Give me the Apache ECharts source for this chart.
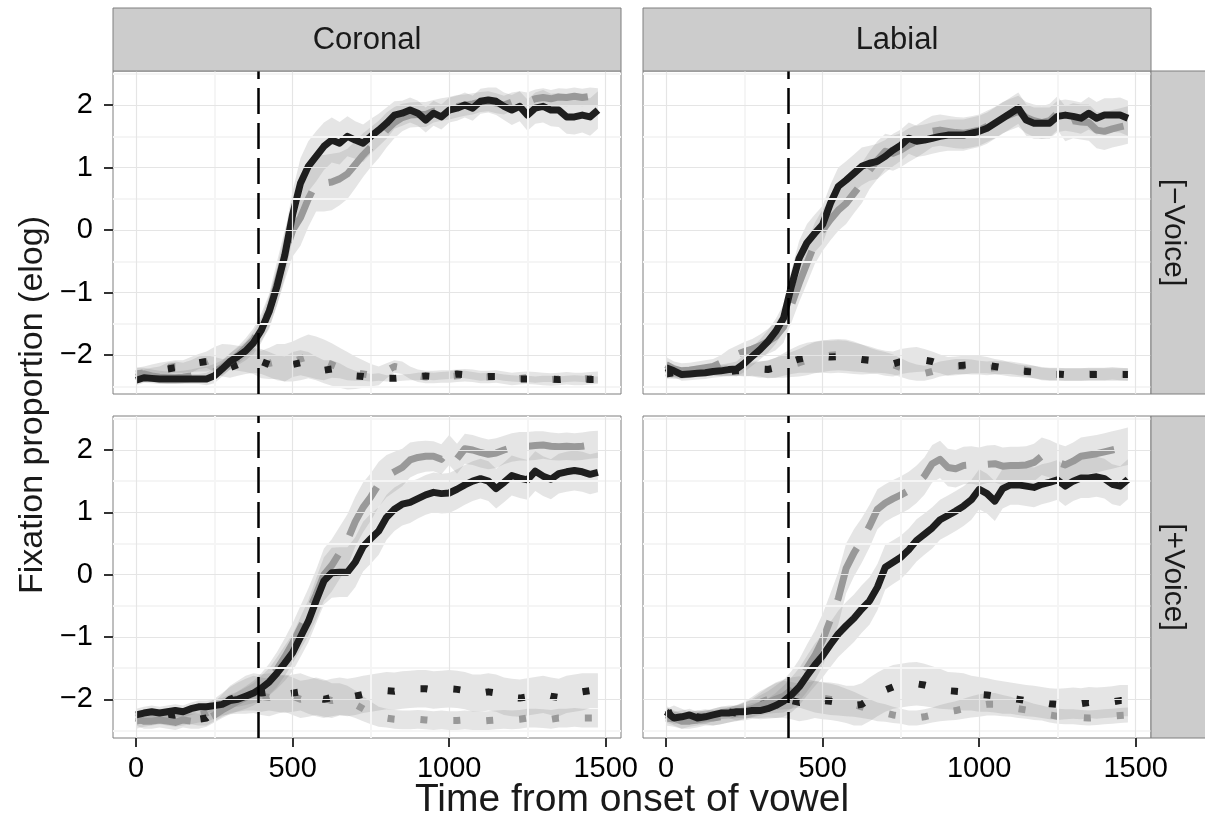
<!DOCTYPE html>
<html>
<head>
<meta charset="utf-8">
<script src="https://cdn.jsdelivr.net/npm/echarts@6/dist/echarts.min.js"></script>
<style>html,body{margin:0;padding:0;background:#fff}#c{width:1205px;height:826px}</style>
</head>
<body>
<div id="c"></div>
<script>
// ---- DATA ----
const times = [0,25,50,75,100,125,150,175,200,225,250,275,300,325,350,375,400,425,450,475,500,525,550,575,600,625,650,675,700,725,750,775,800,825,850,875,900,925,950,975,1000,1025,1050,1075,1100,1125,1150,1175,1200,1225,1250,1275,1300,1325,1350,1375,1400,1425,1450,1475];
const xTicks = [0, 500, 1000, 1500];
const yTicks = [-2, -1, 0, 1, 2];
const colPlace = ['Coronal', 'Labial'];
const rowVoice = ['[\u2212Voice]', '[+Voice]'];
const onsetMark = 390;

// Coronal, -Voice
const cl_black = [-2.40,-2.36,-2.37,-2.38,-2.38,-2.38,-2.38,-2.38,-2.38,-2.38,-2.33,-2.22,-2.10,-2.02,-1.93,-1.80,-1.60,-1.30,-0.90,-0.40,0.25,0.75,1.02,1.18,1.34,1.44,1.39,1.50,1.44,1.39,1.50,1.60,1.71,1.84,1.87,1.92,1.87,1.76,1.87,1.81,1.92,1.95,2.00,1.95,2.06,2.08,2.06,1.98,1.92,1.98,1.84,1.95,1.98,1.92,1.92,1.81,1.81,1.84,1.81,1.92];
const cl_gray = [-2.30,-2.30,-2.33,-2.35,-2.36,-2.36,-2.35,-2.33,-2.30,-2.28,-2.26,-2.20,-2.10,-2.00,-1.88,-1.75,-1.55,-1.30,-0.85,-0.40,0.00,0.20,0.50,0.75,0.75,0.77,0.82,0.90,1.05,1.20,1.33,1.45,1.60,1.72,1.80,1.84,1.85,1.85,1.90,1.93,1.95,1.98,2.00,2.02,2.05,2.06,2.03,2.00,2.05,2.07,2.05,2.10,2.12,2.10,2.13,2.12,2.14,2.12,2.14,2.13];
const cl_bcomp = [-2.35,-2.33,-2.30,-2.28,-2.22,-2.20,-2.22,-2.18,-2.12,-2.10,-2.15,-2.20,-2.20,-2.15,-2.10,-2.08,-2.10,-2.15,-2.20,-2.22,-2.15,-2.12,-2.15,-2.20,-2.24,-2.22,-2.25,-2.30,-2.33,-2.34,-2.36,-2.35,-2.37,-2.37,-2.36,-2.35,-2.34,-2.33,-2.34,-2.33,-2.32,-2.30,-2.31,-2.33,-2.35,-2.34,-2.34,-2.36,-2.37,-2.38,-2.38,-2.39,-2.38,-2.38,-2.39,-2.38,-2.37,-2.38,-2.39,-2.39];
const cl_gcomp = [-2.30,-2.28,-2.25,-2.22,-2.20,-2.18,-2.18,-2.15,-2.12,-2.10,-2.05,-2.02,-2.03,-2.05,-2.07,-2.10,-2.15,-2.13,-2.10,-2.12,-2.10,-2.06,-2.02,-2.05,-2.10,-2.15,-2.20,-2.25,-2.28,-2.30,-2.32,-2.33,-2.25,-2.18,-2.20,-2.28,-2.33,-2.35,-2.35,-2.34,-2.34,-2.33,-2.32,-2.33,-2.35,-2.35,-2.34,-2.36,-2.38,-2.37,-2.36,-2.37,-2.38,-2.39,-2.38,-2.37,-2.38,-2.38,-2.37,-2.36];
const cl_black_se = [0.08,0.08,0.08,0.08,0.08,0.08,0.08,0.08,0.08,0.10,0.12,0.12,0.13,0.14,0.15,0.18,0.20,0.25,0.30,0.35,0.38,0.40,0.40,0.40,0.38,0.36,0.34,0.32,0.30,0.30,0.28,0.26,0.25,0.22,0.20,0.20,0.20,0.20,0.20,0.20,0.20,0.20,0.20,0.20,0.20,0.20,0.22,0.22,0.24,0.24,0.25,0.25,0.26,0.26,0.27,0.27,0.28,0.28,0.30,0.30];
const cl_gray_se = [0.10,0.10,0.10,0.10,0.10,0.10,0.10,0.10,0.10,0.10,0.12,0.12,0.13,0.14,0.15,0.18,0.22,0.28,0.35,0.40,0.42,0.45,0.45,0.45,0.45,0.45,0.42,0.40,0.38,0.35,0.32,0.30,0.28,0.25,0.22,0.20,0.20,0.20,0.18,0.18,0.18,0.18,0.17,0.17,0.16,0.16,0.16,0.15,0.15,0.15,0.15,0.15,0.15,0.14,0.14,0.14,0.14,0.14,0.14,0.14];
const cl_bcomp_se = [0.10,0.10,0.10,0.10,0.10,0.10,0.10,0.10,0.10,0.10,0.12,0.14,0.16,0.18,0.20,0.20,0.20,0.20,0.20,0.20,0.20,0.20,0.20,0.18,0.16,0.14,0.12,0.10,0.08,0.07,0.06,0.06,0.05,0.05,0.05,0.05,0.06,0.06,0.06,0.06,0.06,0.06,0.06,0.06,0.06,0.06,0.05,0.05,0.05,0.05,0.05,0.05,0.05,0.05,0.05,0.05,0.05,0.05,0.05,0.05];
const cl_gcomp_se = [0.10,0.10,0.10,0.10,0.10,0.10,0.10,0.12,0.14,0.16,0.18,0.20,0.20,0.20,0.20,0.20,0.22,0.25,0.28,0.30,0.32,0.34,0.35,0.35,0.35,0.34,0.32,0.30,0.26,0.22,0.18,0.15,0.12,0.10,0.10,0.10,0.10,0.10,0.10,0.10,0.10,0.10,0.10,0.10,0.10,0.10,0.10,0.10,0.10,0.10,0.10,0.10,0.10,0.10,0.10,0.10,0.10,0.10,0.10,0.10];

// Labial, -Voice
const ll_black = [-2.20,-2.25,-2.31,-2.30,-2.29,-2.28,-2.26,-2.25,-2.23,-2.22,-2.13,-2.02,-1.91,-1.78,-1.62,-1.41,-0.90,-0.45,-0.20,-0.05,0.09,0.43,0.70,0.80,0.91,1.02,1.07,1.10,1.18,1.28,1.36,1.47,1.42,1.44,1.47,1.50,1.52,1.52,1.52,1.55,1.58,1.63,1.71,1.79,1.87,1.95,1.76,1.71,1.71,1.71,1.82,1.84,1.82,1.79,1.87,1.79,1.84,1.84,1.84,1.79];
const ll_gray = [-2.15,-2.22,-2.25,-2.24,-2.22,-2.20,-2.18,-2.12,-2.03,-1.99,-1.94,-1.90,-1.85,-1.78,-1.70,-1.55,-1.20,-0.85,-0.53,-0.21,0.00,0.17,0.32,0.43,0.59,0.75,0.96,1.12,1.26,1.23,1.28,1.36,1.42,1.50,1.58,1.60,1.58,1.56,1.55,1.57,1.60,1.66,1.72,1.80,1.85,1.90,1.80,1.75,1.72,1.75,1.87,1.70,1.75,1.73,1.72,1.60,1.58,1.62,1.65,1.68];
const ll_bcomp = [-2.30,-2.28,-2.27,-2.26,-2.25,-2.25,-2.24,-2.25,-2.26,-2.25,-2.24,-2.23,-2.22,-2.23,-2.20,-2.15,-2.10,-2.06,-2.04,-2.03,-2.02,-2.03,-2.02,-2.03,-2.05,-2.07,-2.08,-2.10,-2.13,-2.14,-2.10,-2.08,-2.07,-2.08,-2.10,-2.14,-2.18,-2.17,-2.16,-2.15,-2.15,-2.16,-2.18,-2.20,-2.23,-2.25,-2.26,-2.27,-2.29,-2.30,-2.30,-2.31,-2.31,-2.31,-2.31,-2.31,-2.31,-2.31,-2.31,-2.31];
const ll_gcomp = [-2.28,-2.30,-2.30,-2.28,-2.27,-2.26,-2.25,-2.25,-2.24,-2.23,-2.22,-2.22,-2.23,-2.22,-2.20,-2.18,-2.15,-2.12,-2.08,-2.04,-2.02,-2.00,-1.99,-2.00,-2.02,-2.05,-2.08,-2.10,-2.12,-2.15,-2.20,-2.25,-2.28,-2.29,-2.26,-2.22,-2.20,-2.18,-2.18,-2.19,-2.20,-2.21,-2.20,-2.20,-2.20,-2.22,-2.24,-2.27,-2.30,-2.31,-2.31,-2.31,-2.31,-2.31,-2.30,-2.30,-2.30,-2.29,-2.30,-2.31];
const ll_black_se = [0.10,0.10,0.10,0.10,0.10,0.10,0.10,0.10,0.10,0.12,0.14,0.15,0.16,0.18,0.20,0.22,0.25,0.28,0.30,0.30,0.30,0.30,0.30,0.30,0.30,0.30,0.28,0.28,0.26,0.26,0.25,0.25,0.25,0.25,0.25,0.25,0.25,0.25,0.25,0.25,0.25,0.25,0.25,0.25,0.25,0.25,0.25,0.25,0.25,0.25,0.25,0.25,0.25,0.25,0.26,0.26,0.27,0.27,0.28,0.28];
const ll_gray_se = [0.12,0.12,0.12,0.12,0.12,0.12,0.12,0.12,0.12,0.14,0.15,0.16,0.18,0.20,0.22,0.25,0.28,0.30,0.32,0.33,0.33,0.33,0.33,0.33,0.32,0.32,0.30,0.30,0.28,0.28,0.27,0.27,0.26,0.26,0.25,0.25,0.25,0.25,0.25,0.25,0.25,0.25,0.25,0.25,0.25,0.25,0.25,0.26,0.26,0.27,0.27,0.28,0.28,0.28,0.29,0.29,0.30,0.30,0.30,0.30];
const ll_bcomp_se = [0.08,0.08,0.08,0.08,0.08,0.08,0.08,0.08,0.08,0.08,0.10,0.10,0.12,0.14,0.16,0.18,0.20,0.22,0.24,0.25,0.26,0.26,0.26,0.26,0.25,0.24,0.22,0.20,0.20,0.20,0.20,0.20,0.20,0.18,0.16,0.15,0.15,0.15,0.15,0.14,0.14,0.13,0.12,0.12,0.11,0.10,0.10,0.10,0.10,0.10,0.10,0.10,0.10,0.10,0.10,0.10,0.10,0.10,0.10,0.10];
const ll_gcomp_se = [0.08,0.08,0.08,0.08,0.08,0.08,0.08,0.08,0.09,0.10,0.11,0.12,0.13,0.14,0.16,0.18,0.20,0.22,0.24,0.25,0.25,0.25,0.25,0.25,0.24,0.22,0.20,0.18,0.17,0.16,0.15,0.14,0.13,0.12,0.12,0.12,0.12,0.12,0.12,0.12,0.11,0.11,0.11,0.10,0.10,0.10,0.10,0.10,0.10,0.10,0.10,0.10,0.10,0.10,0.10,0.10,0.10,0.10,0.10,0.10];

// Coronal, +Voice
const cv_black = [-2.25,-2.22,-2.20,-2.22,-2.20,-2.18,-2.20,-2.15,-2.12,-2.12,-2.10,-2.08,-2.02,-2.00,-1.95,-1.90,-1.82,-1.72,-1.58,-1.42,-1.25,-1.00,-0.75,-0.42,-0.10,0.03,0.04,0.04,0.20,0.45,0.58,0.70,0.92,1.05,1.13,1.16,1.22,1.28,1.32,1.30,1.31,1.37,1.44,1.50,1.54,1.50,1.38,1.48,1.59,1.55,1.52,1.66,1.58,1.53,1.62,1.65,1.67,1.65,1.61,1.64];
const cv_gray = [-2.30,-2.35,-2.35,-2.33,-2.35,-2.37,-2.33,-2.35,-2.35,-2.32,-2.25,-2.17,-2.10,-2.03,-1.97,-1.90,-1.80,-1.68,-1.52,-1.32,-1.10,-0.85,-0.60,-0.32,0.00,0.15,0.35,0.55,0.85,1.08,1.25,1.45,1.58,1.65,1.72,1.84,1.88,1.90,1.90,1.85,2.00,1.86,2.02,2.00,1.96,1.93,1.95,2.00,2.04,2.06,2.06,2.07,2.08,2.06,2.05,2.06,2.05,2.06,2.08,2.09];
const cv_bcomp = [-2.30,-2.28,-2.25,-2.27,-2.30,-2.28,-2.25,-2.30,-2.32,-2.30,-2.20,-2.10,-2.00,-1.95,-1.90,-1.88,-1.90,-1.88,-1.90,-1.92,-1.90,-1.88,-1.93,-1.97,-2.00,-1.97,-1.95,-1.97,-1.95,-1.92,-1.90,-1.88,-1.86,-1.87,-1.85,-1.84,-1.83,-1.83,-1.85,-1.84,-1.83,-1.84,-1.86,-1.90,-1.90,-1.88,-1.90,-1.95,-1.97,-1.98,-1.96,-1.94,-1.92,-1.95,-1.97,-1.92,-1.90,-1.88,-1.86,-1.86];
const cv_gcomp = [-2.35,-2.32,-2.30,-2.28,-2.30,-2.32,-2.30,-2.28,-2.25,-2.22,-2.15,-2.08,-2.02,-1.98,-1.95,-1.92,-1.95,-1.97,-1.93,-1.90,-1.95,-2.00,-1.98,-1.95,-1.98,-2.02,-2.00,-2.02,-2.08,-2.15,-2.22,-2.28,-2.30,-2.32,-2.33,-2.33,-2.32,-2.33,-2.34,-2.33,-2.34,-2.34,-2.33,-2.34,-2.35,-2.34,-2.33,-2.32,-2.33,-2.32,-2.30,-2.30,-2.31,-2.32,-2.30,-2.30,-2.29,-2.30,-2.30,-2.30];
const cv_black_se = [0.10,0.10,0.10,0.10,0.10,0.10,0.10,0.10,0.10,0.10,0.10,0.10,0.10,0.12,0.14,0.16,0.20,0.22,0.25,0.28,0.30,0.32,0.34,0.36,0.38,0.40,0.40,0.40,0.40,0.40,0.40,0.38,0.36,0.35,0.34,0.33,0.32,0.32,0.32,0.32,0.32,0.32,0.32,0.32,0.32,0.32,0.32,0.32,0.32,0.32,0.32,0.32,0.32,0.32,0.32,0.32,0.32,0.32,0.32,0.32];
const cv_gray_se = [0.12,0.12,0.12,0.12,0.12,0.12,0.12,0.12,0.12,0.12,0.12,0.13,0.14,0.16,0.18,0.20,0.22,0.25,0.28,0.30,0.32,0.35,0.38,0.40,0.42,0.42,0.42,0.42,0.40,0.40,0.38,0.36,0.34,0.32,0.30,0.28,0.26,0.25,0.24,0.24,0.24,0.24,0.24,0.24,0.24,0.24,0.24,0.23,0.23,0.23,0.23,0.23,0.22,0.22,0.22,0.22,0.22,0.22,0.22,0.22];
const cv_bcomp_se = [0.10,0.10,0.10,0.10,0.10,0.10,0.10,0.10,0.10,0.12,0.15,0.18,0.22,0.25,0.28,0.30,0.30,0.30,0.30,0.30,0.30,0.30,0.30,0.30,0.30,0.30,0.30,0.30,0.30,0.30,0.30,0.30,0.30,0.30,0.30,0.30,0.30,0.30,0.30,0.30,0.30,0.30,0.30,0.30,0.30,0.30,0.30,0.30,0.30,0.30,0.30,0.30,0.30,0.30,0.30,0.30,0.30,0.30,0.28,0.28];
const cv_gcomp_se = [0.12,0.12,0.12,0.12,0.12,0.12,0.12,0.12,0.12,0.14,0.16,0.18,0.22,0.25,0.28,0.30,0.30,0.30,0.30,0.30,0.30,0.30,0.30,0.30,0.30,0.28,0.26,0.24,0.22,0.20,0.18,0.16,0.15,0.15,0.15,0.15,0.15,0.15,0.15,0.15,0.15,0.15,0.15,0.15,0.15,0.15,0.15,0.15,0.15,0.15,0.15,0.15,0.15,0.15,0.15,0.15,0.15,0.15,0.15,0.15];

// Labial, +Voice
const lv_black = [-2.20,-2.30,-2.28,-2.25,-2.30,-2.28,-2.25,-2.22,-2.22,-2.20,-2.20,-2.18,-2.18,-2.15,-2.10,-2.03,-1.93,-1.80,-1.62,-1.45,-1.30,-1.12,-0.95,-0.82,-0.70,-0.55,-0.42,-0.20,0.12,0.20,0.28,0.40,0.55,0.65,0.75,0.88,0.95,1.02,1.10,1.20,1.37,1.30,1.18,1.38,1.44,1.44,1.42,1.40,1.45,1.48,1.52,1.42,1.50,1.55,1.55,1.57,1.54,1.45,1.42,1.53];
const lv_gray = [-2.25,-2.30,-2.35,-2.35,-2.33,-2.30,-2.30,-2.28,-2.25,-2.22,-2.18,-2.15,-2.10,-2.05,-2.00,-1.95,-1.85,-1.70,-1.50,-1.30,-1.05,-0.72,-0.38,0.10,0.35,0.55,0.78,1.05,1.15,1.22,1.28,1.35,1.45,1.58,1.78,1.85,1.72,1.70,1.75,1.76,1.74,1.77,1.78,1.74,1.75,1.75,1.76,1.80,1.90,1.86,1.80,1.76,1.82,1.90,1.92,1.94,1.97,2.00,2.03,2.06];
const lv_bcomp = [-2.25,-2.20,-2.25,-2.30,-2.28,-2.30,-2.25,-2.22,-2.20,-2.22,-2.20,-2.15,-2.10,-2.05,-2.02,-2.00,-2.02,-2.05,-2.03,-2.00,-2.02,-2.03,-2.05,-2.08,-2.10,-2.08,-2.00,-1.92,-1.85,-1.80,-1.78,-1.76,-1.75,-1.77,-1.80,-1.83,-1.86,-1.87,-1.88,-1.90,-1.92,-1.93,-1.95,-1.97,-1.98,-2.00,-2.02,-2.03,-2.05,-2.07,-2.08,-2.07,-2.06,-2.07,-2.05,-2.06,-2.05,-2.04,-2.02,-2.02];
const lv_gcomp = [-2.30,-2.32,-2.35,-2.32,-2.30,-2.28,-2.30,-2.28,-2.25,-2.22,-2.18,-2.12,-2.05,-2.00,-1.95,-1.92,-1.90,-1.88,-1.92,-1.96,-1.98,-2.00,-2.02,-2.05,-2.08,-2.12,-2.16,-2.20,-2.22,-2.25,-2.27,-2.30,-2.30,-2.28,-2.25,-2.22,-2.20,-2.18,-2.15,-2.12,-2.10,-2.08,-2.08,-2.10,-2.12,-2.15,-2.17,-2.20,-2.22,-2.25,-2.27,-2.28,-2.28,-2.29,-2.30,-2.29,-2.28,-2.27,-2.26,-2.25];
const lv_black_se = [0.10,0.10,0.10,0.10,0.10,0.10,0.10,0.10,0.10,0.10,0.10,0.12,0.14,0.16,0.20,0.25,0.28,0.30,0.32,0.34,0.35,0.36,0.37,0.38,0.38,0.38,0.38,0.37,0.36,0.35,0.35,0.34,0.34,0.33,0.33,0.32,0.32,0.32,0.32,0.32,0.32,0.32,0.32,0.32,0.32,0.32,0.32,0.32,0.32,0.32,0.32,0.32,0.32,0.32,0.32,0.32,0.32,0.32,0.32,0.32];
const lv_gray_se = [0.12,0.12,0.12,0.12,0.12,0.12,0.12,0.12,0.12,0.12,0.13,0.14,0.16,0.18,0.22,0.26,0.30,0.34,0.38,0.40,0.42,0.42,0.42,0.40,0.38,0.36,0.34,0.32,0.30,0.30,0.30,0.30,0.30,0.30,0.30,0.30,0.30,0.30,0.30,0.30,0.30,0.30,0.30,0.30,0.30,0.30,0.30,0.30,0.30,0.30,0.30,0.30,0.30,0.30,0.30,0.30,0.30,0.30,0.30,0.30];
const lv_bcomp_se = [0.10,0.10,0.10,0.10,0.10,0.10,0.10,0.10,0.10,0.12,0.14,0.16,0.20,0.24,0.28,0.30,0.30,0.30,0.30,0.30,0.30,0.30,0.30,0.30,0.32,0.34,0.35,0.35,0.35,0.35,0.35,0.35,0.35,0.34,0.33,0.32,0.30,0.30,0.30,0.28,0.28,0.27,0.26,0.26,0.25,0.25,0.25,0.25,0.25,0.25,0.25,0.25,0.25,0.25,0.25,0.25,0.25,0.25,0.25,0.25];
const lv_gcomp_se = [0.12,0.12,0.12,0.12,0.12,0.12,0.12,0.12,0.12,0.13,0.14,0.16,0.18,0.20,0.22,0.24,0.25,0.25,0.25,0.25,0.25,0.25,0.24,0.22,0.20,0.18,0.16,0.15,0.14,0.13,0.12,0.12,0.12,0.12,0.12,0.13,0.14,0.15,0.16,0.17,0.18,0.18,0.18,0.17,0.16,0.15,0.14,0.13,0.12,0.12,0.12,0.12,0.12,0.12,0.12,0.12,0.12,0.12,0.12,0.12];

// ---- CHART ----
const FONT = '"Liberation Sans", Arial, Helvetica, sans-serif';
const panels = [
  {grid:{left:113, top:71, width:508, height:323}, bottom:false, left:true,
   lines:[[cl_gcomp,cl_gcomp_se,'g','dot'],[cl_bcomp,cl_bcomp_se,'k','dot'],[cl_gray,cl_gray_se,'g','dash'],[cl_black,cl_black_se,'k','solid']]},
  {grid:{left:643, top:71, width:508, height:323}, bottom:false, left:false,
   lines:[[ll_gcomp,ll_gcomp_se,'g','dot'],[ll_bcomp,ll_bcomp_se,'k','dot'],[ll_gray,ll_gray_se,'g','dash'],[ll_black,ll_black_se,'k','solid']]},
  {grid:{left:113, top:416, width:508, height:322}, bottom:true, left:true,
   lines:[[cv_gcomp,cv_gcomp_se,'g','dot'],[cv_bcomp,cv_bcomp_se,'k','dot'],[cv_gray,cv_gray_se,'g','dash'],[cv_black,cv_black_se,'k','solid']]},
  {grid:{left:643, top:416, width:508, height:322}, bottom:true, left:false,
   lines:[[lv_gcomp,lv_gcomp_se,'g','dot'],[lv_bcomp,lv_bcomp_se,'k','dot'],[lv_gray,lv_gray_se,'g','dash'],[lv_black,lv_black_se,'k','solid']]}
];

const BLACK = '#1e1e1e', GRAY = '#999999';
const grids = [], xAxes = [], yAxes = [], series = [];
const minus = v => String(v).replace('-', '\u2212');
const plain = v => String(v);

panels.forEach((p, i) => {
  grids.push(Object.assign({show:true, borderColor:'#7f7f7f', borderWidth:1, backgroundColor:'#ffffff'}, p.grid));
  xAxes.push({type:'value', gridIndex:i, position:'bottom', min:-73.75, max:1548.75,
    splitLine:{show:false}, axisLine:{show:false, onZero:false},
    axisTick:{show:p.bottom, length:9, customValues:xTicks, lineStyle:{color:'#333333', width:2}},
    axisLabel:{show:p.bottom, customValues:xTicks, margin:16, fontSize:29, color:'#000', fontFamily:FONT, formatter:plain}});
  yAxes.push({type:'value', gridIndex:i, position:'left', min:-2.62, max:2.545,
    splitLine:{show:false}, axisLine:{show:false, onZero:false},
    axisTick:{show:p.left, length:9, customValues:yTicks, lineStyle:{color:'#333333', width:2}},
    axisLabel:{show:p.left, customValues:yTicks, margin:20, fontSize:29, color:'#000', fontFamily:FONT, formatter:minus}});

  // grid lines (major & minor) as mark lines
  const gl = [];
  [250, 750, 1250].forEach(v => gl.push({xAxis:v, lineStyle:{color:'#f5f5f5', width:2, type:'solid'}}));
  [-2.5, -1.5, -0.5, 0.5, 1.5, 2.5].forEach(v => gl.push({yAxis:v, lineStyle:{color:'#f5f5f5', width:2, type:'solid'}}));
  xTicks.forEach(v => gl.push({xAxis:v, lineStyle:{color:'#e5e5e5', width:1.2, type:'solid'}}));
  yTicks.forEach(v => gl.push({yAxis:v, lineStyle:{color:'#e5e5e5', width:1.2, type:'solid'}}));
  series.push({type:'line', xAxisIndex:i, yAxisIndex:i, data:[], z:1, silent:true,
    markLine:{silent:true, symbol:['none','none'], label:{show:false}, animation:false, data:gl}});

  // ribbons (mean +/- se), drawn as polygons through the axis scales
  p.lines.forEach((L) => {
    const mean = L[0], se = L[1];
    series.push({type:'custom', xAxisIndex:i, yAxisIndex:i, z:2, silent:true, clip:true,
      data:[[times[0], mean[0]]],
      renderItem: (params, api) => {
        const pts = [];
        for (let k = 0; k < times.length; k++) pts.push(api.coord([times[k], mean[k] + se[k]]));
        for (let k = times.length - 1; k >= 0; k--) pts.push(api.coord([times[k], mean[k] - se[k]]));
        return {type:'polygon', shape:{points:pts}, style:{fill:'rgba(127,127,127,0.2)', stroke:null}};
      }});
  });
  // lines
  p.lines.forEach((L) => {
    const color = L[2] === 'k' ? BLACK : GRAY;
    let type = 'solid';
    if (L[3] === 'dot') type = [7, 26];
    if (L[3] === 'dash') type = [56, 22];
    series.push({type:'line', xAxisIndex:i, yAxisIndex:i, z:3, silent:true, symbol:'none',
      lineStyle:{color:color, width:7, type:type, cap:'butt', join:'round'},
      data: times.map((t, k) => [t, L[0][k]])});
  });
  // onset marker
  series.push({type:'line', xAxisIndex:i, yAxisIndex:i, data:[], z:4, silent:true,
    markLine:{silent:true, symbol:['none','none'], label:{show:false}, animation:false,
      data:[{xAxis:onsetMark, lineStyle:{color:'#000', width:2.5, type:[26, 9]}}]}});
});

const txt = (text, x, y, size, rot) => ({type:'text', x:x, y:y, rotation:rot || 0, z:10,
  style:{text:text, fontSize:size, fontFamily:FONT, fill:'#1a1a1a',
    align:'center', verticalAlign:'middle', textAlign:'center', textVerticalAlign:'middle'}});
const rect = (x, y, w, h) => ({type:'rect', z:9, shape:{x:x, y:y, width:w, height:h},
  style:{fill:'#cccccc', stroke:'#7f7f7f', lineWidth:1}});

const graphics = [
  rect(113, 8, 508, 63), txt(colPlace[0], 367, 40, 31),
  rect(643, 8, 508, 63), txt(colPlace[1], 897, 40, 31),
  rect(1151, 71, 60, 323), txt(rowVoice[0], 1173, 232.5, 30, -Math.PI/2),
  rect(1151, 416, 60, 322), txt(rowVoice[1], 1173, 577, 30, -Math.PI/2),
  txt('Fixation proportion (elog)', 33, 405, 34, Math.PI/2),
  txt('Time from onset of vowel', 632, 800, 39)
];

const chart = echarts.init(document.getElementById('c'), null, {renderer:'canvas'});
chart.setOption({
  animation:false,
  backgroundColor:'#ffffff',
  grid:grids, xAxis:xAxes, yAxis:yAxes, series:series,
  graphic:graphics
});
</script>
</body>
</html>
